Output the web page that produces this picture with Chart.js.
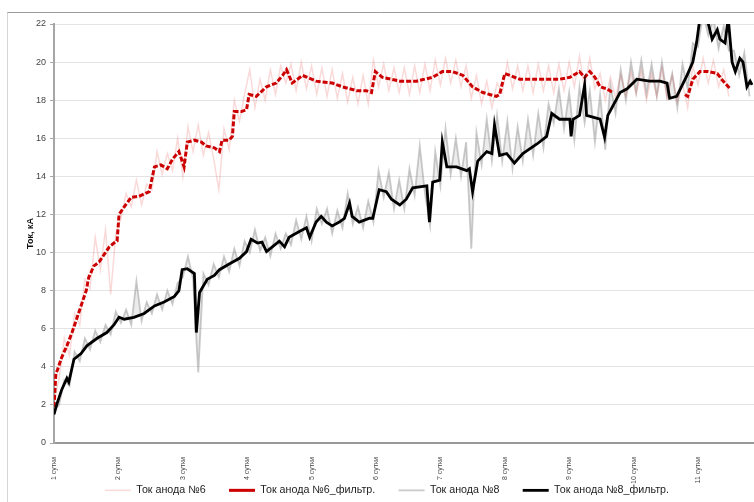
<!DOCTYPE html>
<html>
<head>
<meta charset="utf-8">
<script src="https://cdn.jsdelivr.net/npm/chart.js@4/dist/chart.umd.min.js"></script>
<style>
  html, body { margin: 0; padding: 0; background: #fff; }
  canvas { display: block; }
</style>
</head>
<body>
<canvas id="chart" width="754" height="502"></canvas>
<script>
// Time axis in days ("сутки"), current in kA.
const dayMin = 1;
const dayMax = 11.87;
const dayWord = ' сутки';

// Raw samples: common time grid for both anodes
const rawDays = [
  1.00,1.08,1.16,1.24,1.32,1.40,1.48,1.56,1.64,1.72,
  1.80,1.88,1.96,2.04,2.12,2.20,2.28,2.36,2.44,2.52,
  2.60,2.68,2.76,2.84,2.92,3.00,3.08,3.16,3.24,3.32,
  3.40,3.48,3.56,3.64,3.72,3.80,3.88,3.96,4.04,4.12,
  4.20,4.28,4.36,4.44,4.52,4.60,4.68,4.76,4.84,4.92,
  5.00,5.08,5.16,5.24,5.32,5.40,5.48,5.56,5.64,5.72,
  5.80,5.88,5.96,6.04,6.12,6.20,6.28,6.36,6.44,6.52,
  6.60,6.68,6.76,6.84,6.92,7.00,7.08,7.16,7.24,7.32,
  7.40,7.48,7.56,7.64,7.72,7.80,7.88,7.96,8.04,8.12,
  8.20,8.28,8.36,8.44,8.52,8.60,8.68,8.76,8.84,8.92,
  9.00,9.08,9.16,9.24,9.32,9.40,9.48,9.56,9.64,9.72,
  9.80,9.88,9.96,10.04,10.12,10.20,10.28,10.36,10.44,10.52,
  10.60,10.68,10.76,10.84,10.92,11.00,11.08,11.16,11.24,11.32,
  11.40,11.48,11.56,11.64,11.72,11.80
];

// Anode #6, raw current, kA
const raw6 = [
  2.2,3.4,5.5,4.6,6.8,6.2,8.6,8.1,10.8,9.1,
  11.2,7.8,11.0,11.8,13.1,12.4,13.8,12.5,13.6,13.3,
  15.3,14.1,15.2,14.3,16.0,14.0,16.6,15.3,16.7,15.1,
  16.3,14.9,13.3,16.5,15.4,18.0,16.9,18.3,19.6,17.6,
  19.1,18.0,19.6,18.3,19.8,18.9,19.9,18.5,20.0,18.6,
  19.8,18.3,19.7,18.2,19.6,18.1,19.4,17.9,19.2,17.8,
  19.3,17.8,20.1,18.7,19.9,18.5,19.7,18.4,19.7,18.3,
  19.8,18.4,19.9,18.5,20.1,18.8,20.2,18.9,20.1,18.7,
  19.8,18.1,19.3,17.8,19.0,17.6,18.9,18.4,20.0,18.6,
  19.8,18.5,19.8,18.4,19.9,18.5,19.8,18.4,19.9,18.5,
  20.0,18.7,20.3,18.6,20.2,18.6,19.4,18.0,19.2,18.1,
  19.3,18.2,19.5,18.3,19.6,18.0,19.4,18.2,19.7,18.1,
  19.3,17.9,18.9,17.6,19.8,18.8,20.2,18.9,20.1,18.7,
  19.6,18.2
];

// Anode #8, raw current, kA
const raw8 = [
  1.7,2.0,3.3,3.0,4.8,4.3,5.5,4.9,5.9,5.3,
  6.2,5.7,6.9,6.3,7.0,6.2,8.5,6.4,7.4,6.8,
  7.8,7.0,8.0,7.3,8.4,8.7,9.8,8.6,3.7,8.9,
  8.3,9.4,8.7,9.8,9.0,10.2,9.3,10.6,10.0,11.2,
  10.1,10.8,9.8,11.0,10.2,11.0,10.4,11.7,10.7,11.9,
  10.6,12.3,11.5,12.3,11.0,12.2,11.3,13.1,11.5,12.4,
  11.3,12.7,11.6,14.3,12.9,14.2,12.3,13.8,12.3,14.4,
  13.0,15.6,13.1,11.4,15.3,13.5,16.5,14.1,16.0,14.0,
  15.8,10.2,16.3,14.6,17.0,14.8,17.2,14.8,16.9,14.4,
  16.6,14.8,17.0,15.1,17.3,15.5,17.8,16.8,18.6,16.5,
  18.4,15.9,18.7,16.8,18.5,15.8,18.3,15.4,18.8,17.3,
  19.6,18.0,20.0,18.4,20.1,18.3,19.9,18.2,20.0,18.2,
  19.4,17.6,19.9,18.6,21.0,20.8,22.6,21.4,22.3,20.7,
  21.9,20.6,20.6,19.3,20.5,18.2
];

// Anode #6, filtered
const filtDays6 = [
  1.00,1.03,1.05,1.12,1.20,1.28,1.36,1.44,1.50,1.54,
  1.62,1.70,1.78,1.86,1.93,1.98,2.01,2.09,2.20,2.32,
  2.48,2.56,2.66,2.76,2.84,2.94,3.02,3.07,3.18,3.29,
  3.36,3.49,3.57,3.61,3.72,3.77,3.80,3.91,3.99,4.03,
  4.14,4.30,4.45,4.55,4.61,4.70,4.86,5.07,5.32,5.48,
  5.70,5.85,5.93,5.99,6.10,6.37,6.63,6.88,7.03,7.19,
  7.35,7.50,7.66,7.87,7.92,8.00,8.23,8.54,8.85,9.01,
  9.16,9.24,9.32,9.40,9.48,9.58,9.68,9.75,10.80,10.84,
  10.92,11.03,11.16,11.30,11.39,11.50
];
const filt6 = [
  1.9,3.7,3.8,4.5,5.1,5.8,6.6,7.4,8.0,8.7,
  9.3,9.5,9.9,10.3,10.5,10.6,12.0,12.4,12.9,12.95,
  13.2,14.5,14.6,14.4,14.9,15.3,14.5,15.8,15.9,15.8,
  15.6,15.5,15.3,15.9,15.9,16.1,17.4,17.4,17.5,18.3,
  18.2,18.7,18.9,19.3,19.6,18.9,19.3,19.0,18.9,18.7,
  18.5,18.5,18.4,19.5,19.2,19.0,19.0,19.2,19.5,19.5,
  19.3,18.7,18.4,18.2,18.3,19.4,19.1,19.1,19.1,19.2,
  19.5,19.2,19.5,19.2,18.7,18.6,18.4,null,18.3,18.2,
  19.1,19.5,19.5,19.4,19.0,18.6
];

// Anode #8, filtered
const filtDays8 = [
  1.00,1.05,1.12,1.20,1.23,1.31,1.42,1.51,1.67,1.82,
  1.93,2.01,2.09,2.24,2.40,2.56,2.71,2.87,2.94,2.99,
  3.07,3.18,3.21,3.26,3.38,3.49,3.57,3.72,3.88,3.99,
  4.06,4.16,4.23,4.30,4.39,4.50,4.58,4.65,4.81,4.92,
  4.97,5.07,5.15,5.23,5.32,5.43,5.51,5.59,5.63,5.74,
  5.90,5.95,6.05,6.16,6.24,6.37,6.47,6.57,6.79,6.83,
  6.88,6.99,7.03,7.10,7.25,7.41,7.45,7.50,7.58,7.72,
  7.80,7.84,7.92,8.03,8.15,8.28,8.50,8.65,8.73,8.85,
  9.01,9.03,9.06,9.16,9.24,9.27,9.48,9.55,9.60,9.79,
  9.90,10.05,10.25,10.41,10.52,10.56,10.67,10.83,10.92,10.98,
  11.03,11.14,11.22,11.30,11.34,11.42,11.47,11.53,11.58,11.65,
  11.70,11.76,11.81,11.84
];
const filt8 = [
  1.5,2.1,2.8,3.4,3.2,4.4,4.7,5.1,5.5,5.8,
  6.2,6.6,6.5,6.6,6.8,7.2,7.4,7.7,8.0,9.1,
  9.15,8.9,5.8,7.9,8.6,8.8,9.1,9.4,9.7,10.05,
  10.7,10.5,10.55,10.05,10.3,10.6,10.3,10.8,11.1,11.3,
  10.8,11.6,11.9,11.6,11.4,11.6,11.8,12.6,11.9,11.6,
  11.8,11.8,13.3,13.2,12.8,12.5,12.8,13.4,13.5,11.6,
  13.7,13.8,15.8,14.5,14.5,14.3,14.4,13.2,14.8,15.3,
  15.2,16.7,15.1,15.2,14.7,15.2,15.7,16.1,17.3,17.0,
  17.0,16.1,17.0,17.2,18.8,17.2,17.0,16.05,17.2,18.4,
  18.6,19.1,19.0,19.0,18.9,18.1,18.2,19.3,20.0,21.05,
  22.3,22.3,21.2,21.7,21.2,21.0,22.3,20.0,19.5,20.2,
  20.0,18.7,19.0,18.8
];

const seriesNames = ['Ток анода №6', 'Ток анода №6_фильтр.', 'Ток анода №8', 'Ток анода №8_фильтр.'];
const yTitle = 'Ток, кА';

const toPoints = (xs, ys) => ys.map((y, i) => ({ x: xs[i], y }));
const FONT = "'Liberation Sans', Arial, sans-serif";
// spacing between legend entries
const LEGEND_GAP = '\u2002\u2002\u2002\u2002';
const LEGEND_TAIL = '\u2002\u2002\u2009';

// Thin outer frame of the chart container
const framePlugin = {
  id: 'frame',
  beforeDraw(chart) {
    const ctx = chart.ctx;
    ctx.save();
    ctx.fillStyle = '#ffffff';
    ctx.fillRect(0, 0, chart.width, chart.height);
    ctx.lineWidth = 1;
    ctx.strokeStyle = '#9a9a9a';
    ctx.beginPath();
    ctx.moveTo(7, 12.5);
    ctx.lineTo(chart.width, 12.5);
    ctx.stroke();
    ctx.strokeStyle = '#d6d6d6';
    ctx.beginPath();
    ctx.moveTo(7.5, 12.5);
    ctx.lineTo(7.5, chart.height);
    ctx.stroke();
    ctx.restore();
  }
};

const common = { pointRadius: 0, pointHoverRadius: 0, tension: 0, fill: false, spanGaps: false };

new Chart(document.getElementById('chart'), {
  type: 'line',
  data: {
    datasets: [
      { ...common, label: seriesNames[0], data: toPoints(rawDays, raw6),
        borderColor: 'rgba(225,45,45,0.18)', backgroundColor: 'rgba(225,45,45,0.18)', borderWidth: 1.5, order: 2 },
      { ...common, label: seriesNames[1], data: toPoints(filtDays6, filt6),
        borderColor: '#cc0000', backgroundColor: '#cc0000', borderWidth: 3, borderDash: [5, 2], order: 1 },
      { ...common, label: seriesNames[2], data: toPoints(rawDays, raw8),
        borderColor: 'rgba(140,140,140,0.45)', backgroundColor: 'rgba(170,170,170,0.22)', borderWidth: 1.8,
        fill: 3, order: 3 },
      { ...common, label: seriesNames[3], data: toPoints(filtDays8, filt8),
        borderColor: '#000000', backgroundColor: '#000000', borderWidth: 2.8, order: 0 }
    ]
  },
  options: {
    responsive: false,
    animation: false,
    devicePixelRatio: 1,
    layout: { padding: { left: 25, top: 24, right: 0, bottom: 4 } },
    scales: {
      x: {
        type: 'linear',
        min: dayMin,
        max: dayMax,
        ticks: {
          stepSize: 1,
          includeBounds: false,
          autoSkip: false,
          minRotation: 90,
          maxRotation: 90,
          padding: 14,
          color: '#444',
          font: { family: FONT, size: 7 },
          callback: v => v + dayWord
        },
        grid: { display: false, drawTicks: false },
        border: { display: true, color: '#999999', width: 2 },
        afterFit(scale) { scale.height = 40; }
      },
      y: {
        min: 0,
        max: 22,
        ticks: { stepSize: 2, padding: 4, color: '#444', font: { family: FONT, size: 9 } },
        grid: { color: '#e4e4e4', lineWidth: 1, tickLength: 4, tickColor: '#a6a6a6' },
        border: { display: true, color: '#a6a6a6', width: 2 },
        title: { display: true, text: yTitle, color: '#111', padding: 0,
                 font: { family: FONT, size: 9, weight: 'bold' } },
        afterFit(scale) { scale.width = 29; }
      }
    },
    plugins: {
      tooltip: { enabled: false },
      filler: { propagate: false },
      legend: {
        position: 'bottom',
        align: 'center',
        fullSize: false,
        maxHeight: 15,
        labels: {
          usePointStyle: true,
          pointStyle: 'line',
          pointStyleWidth: 26,
          padding: 2,
          color: '#222',
          font: { family: FONT, size: 10.7 },
          generateLabels(chart) {
            return Chart.defaults.plugins.legend.labels.generateLabels(chart)
              .map(item => ({ ...item, text: item.text + LEGEND_GAP + (item.datasetIndex === 3 ? LEGEND_TAIL : '') }));
          },
          sort: (a, b) => a.datasetIndex - b.datasetIndex
        }
      }
    }
  },
  plugins: [framePlugin]
});
</script>
</body>
</html>
